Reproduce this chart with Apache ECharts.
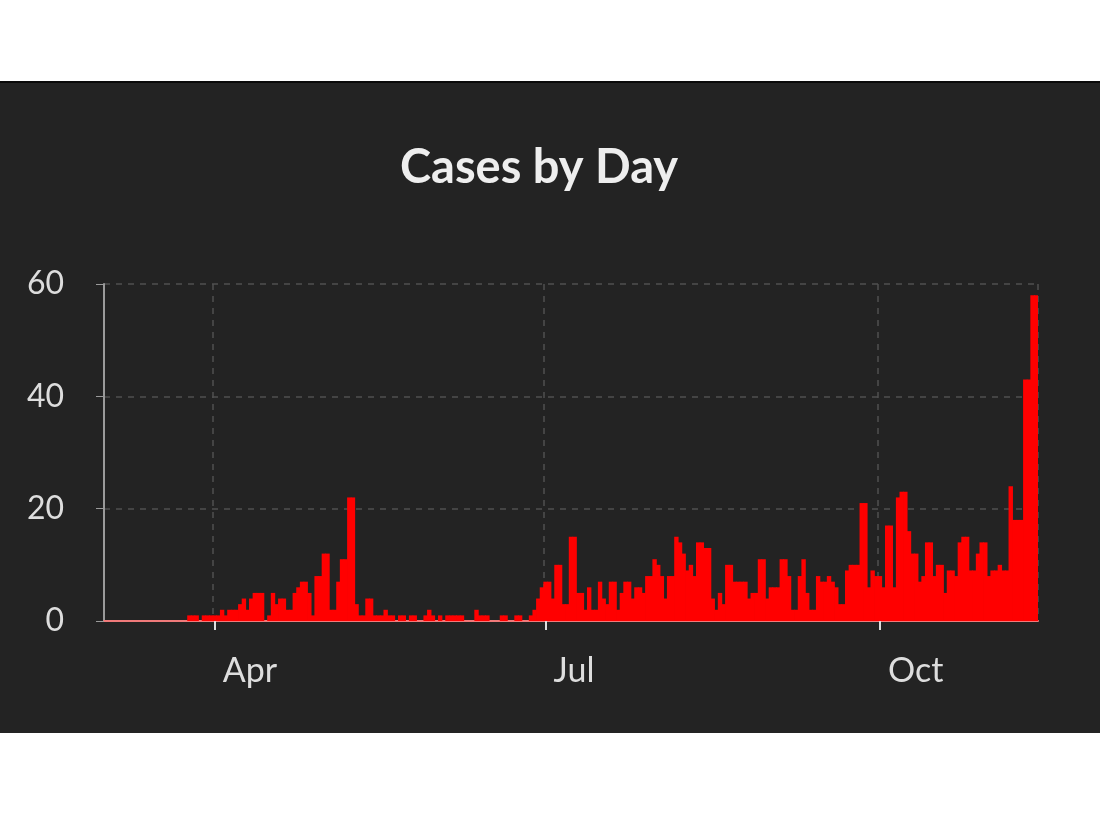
<!DOCTYPE html>
<html><head><meta charset="utf-8">
<script src="https://cdn.jsdelivr.net/npm/echarts@6/dist/echarts.min.js"></script>
<style>html,body{margin:0;padding:0;background:#fff;}#c{width:1100px;height:816px;}</style>
</head><body><div id="c"></div>
<script>
// Daily case counts, 2 Mar 2020 – 13 Nov 2020
const mar = [0,0,0,0,0,0,0,0,0,0,0,0,0,0,0,0,0,0,0,0,0,0,0,1,1,1,0,1,1,1];
const apr = [1,1,2,1,2,2,2,3,4,2,4,5,5,5,0,1,5,3,4,4,2,2,5,6,7,7,5,1,8,8];
const may = [12,12,2,2,7,11,11,22,22,3,1,1,4,4,1,1,1,2,1,1,0,1,1,0,1,1,0,0,1,2,1];
const jun = [0,1,0,1,1,1,1,1,0,0,0,2,1,1,1,0,0,0,1,1,0,0,1,1,0,0,1,2,4,6];
const jul = [7,7,4,10,10,3,3,15,15,5,5,2,6,2,2,7,4,3,7,7,2,5,7,7,4,6,6,5,8,8,11];
const aug = [10,8,4,8,8,15,14,12,9,10,8,14,14,13,13,4,2,5,3,10,10,7,7,7,7,4,5,5,11,11,4];
const sep = [6,6,6,11,11,8,2,2,8,11,5,2,2,8,7,7,8,7,6,3,3,9,10,10,10,21,21,6,9,8];
const oct = [8,6,17,17,6,22,23,23,16,12,12,7,8,14,14,8,10,10,5,9,9,8,14,15,15,9,9,12,14,14,8];
const nov = [9,9,10,9,9,24,18,18,18,43,43,58,58];
const cases = [].concat(mar, apr, may, jun, jul, aug, sep, oct, nov);
const startDate = '2020-03-02';
const tickMonths = ['Apr', 'Jul', 'Oct'];
const yTicks = [0, 20, 40, 60];

const monthNames = ['Jan','Feb','Mar','Apr','May','Jun','Jul','Aug','Sep','Oct','Nov','Dec'];
const days = [];
const d0 = new Date(startDate + 'T00:00:00Z');
for (let i = 0; i < cases.length; i++) {
  const d = new Date(d0.getTime() + i * 86400000);
  days.push(d.toISOString().slice(0, 10));
}
function isTick(idx) {
  const s = days[idx];
  if (!s || s.slice(8) !== '01') return false;
  return tickMonths.indexOf(monthNames[parseInt(s.slice(5, 7), 10) - 1]) >= 0;
}
const chart = echarts.init(document.getElementById('c'), null, {renderer: 'canvas'});
chart.setOption({
  backgroundColor: '#ffffff',
  animation: false,
  graphic: [
    {type: 'rect', z: -10, shape: {x: 0, y: 81, width: 1100, height: 652}, style: {fill: '#232323'}},
    {type: 'rect', z: -9, shape: {x: 0, y: 81, width: 1100, height: 2}, style: {fill: '#0a0a0a'}}
  ],
  title: {
    text: 'Cases by Day', left: 395, top: 139,
    textStyle: {color: '#eeeeee', fontFamily: 'Lato', fontWeight: 'bold', fontSize: 47}
  },
  grid: {left: 104, right: 62, top: 284, bottom: 195},
  xAxis: {
    type: 'category', data: days, boundaryGap: true,
    axisLine: {show: true, lineStyle: {color: '#f07a7a', width: 2}},
    axisTick: {show: true, alignWithLabel: true, interval: (i) => isTick(i), length: 9, lineStyle: {color: '#dddddd', width: 2}},
    axisLabel: {
      show: true, interval: (i) => isTick(i), align: 'left', padding: [0, 0, 0, 8], margin: 33,
      color: '#dddddd', fontFamily: 'Lato', fontSize: 34,
      formatter: (v) => monthNames[parseInt(v.slice(5, 7), 10) - 1]
    },
    splitLine: {show: true, interval: (i) => isTick(i), lineStyle: {color: '#505050', type: [6, 6], width: 1.5}}
  },
  yAxis: {
    type: 'value', min: 0, max: 60, interval: 20,
    axisLine: {show: true, lineStyle: {color: '#9a9a9a', width: 2}},
    axisTick: {show: true, length: 8, lineStyle: {color: '#9a9a9a'}},
    axisLabel: {color: '#dddddd', fontFamily: 'Lato', fontSize: 32, margin: 40,
      formatter: (v) => yTicks.indexOf(v) >= 0 ? String(v) : ''},
    splitLine: {show: true, lineStyle: {color: '#505050', type: [6, 6], width: 1.5}}
  },
  series: [{
    type: 'bar', data: cases, barWidth: 4.4, barGap: '0%',
    itemStyle: {color: '#ff0000'}
  }]
});
</script></body></html>
